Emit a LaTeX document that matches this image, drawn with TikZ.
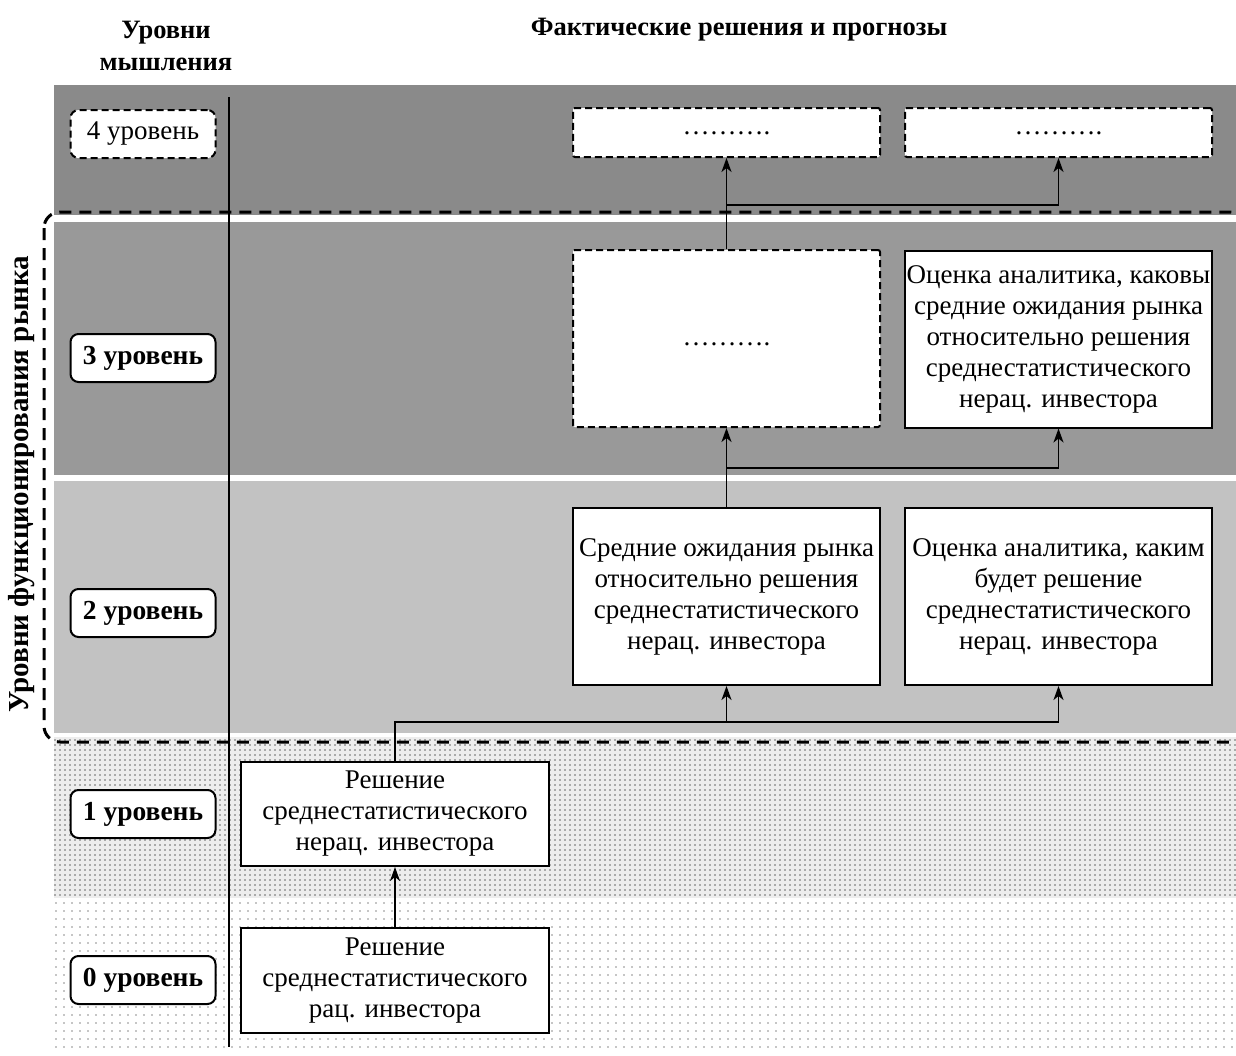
\documentclass[tikz,border=0pt]{standalone}
\usepackage{fontspec}
\setmainfont{Liberation Serif}
\usetikzlibrary{arrows.meta,patterns.meta}
\begin{document}
\begin{tikzpicture}[x=1pt,y=-1pt,
  txt/.style={font=\fontsize{27}{31}\selectfont},
  hdr/.style={font=\fontsize{26.5}{32}\selectfont\bfseries, align=center},
  box/.style={txt, draw, line width=2pt, fill=white, align=center, inner sep=0pt,
              minimum width=307pt, minimum height=177pt},
  dbox/.style={box, dash pattern=on 7pt off 4pt, rounded corners=2pt},
  dotstxt/.style={txt, anchor=base, inner sep=0pt},
  lvl/.style={txt, draw, line width=2pt, fill=white, rounded corners=8pt, inner sep=0pt,
              minimum width=145pt, minimum height=48pt},
  blvl/.style={lvl, font=\fontsize{27.5}{31}\selectfont\bfseries},
  arr/.style={line width=1.6pt, -{Stealth[length=14pt,width=10pt,inset=4pt]}},
  conn/.style={line width=1.6pt}
]
\useasboundingbox (0,0) rectangle (1236,1055);

% bands
\fill[black!46] (54,85) rectangle (1236,215);
\fill[black!40] (54,222) rectangle (1236,475);
\fill[black!24] (54,481) rectangle (1236,733);
\fill[black!7] (54,737) rectangle (1236,898);
\fill[pattern={Dots[distance=5pt,radius=0.95pt]}, pattern color=black!60] (54,737) rectangle (1236,898);
\fill[pattern={Dots[distance=8pt,radius=0.9pt]}, pattern color=black!45] (54,898) rectangle (1236,1050);

% headers
\node[hdr] (h1) at (166,46) {Уровни\\мышления};
\node[hdr] (h2) at (739,30) {Фактические решения и прогнозы};

% separator
\draw[line width=1.4pt] (229,97) -- (229,1047);

% market dashed frame
\draw[line width=3pt, dash pattern=on 12pt off 8pt, rounded corners=16pt] (44,212) rectangle (1246,742);
\node[hdr, font=\fontsize{29}{32}\selectfont\bfseries, rotate=90] (side) at (22,484) {Уровни функционирования рынка};

% level labels
\node[lvl, dash pattern=on 7pt off 4pt] (l4) at (143,134) {4 уровень};
\node[blvl] (l3) at (143,358) {3 уровень};
\node[blvl] (l2) at (143,613) {2 уровень};
\node[blvl] (l1) at (143,814) {1 уровень};
\node[blvl] (l0) at (143,980) {0 уровень};

% boxes
\node[box, minimum width=308pt, minimum height=105pt] (b0) at (395,980.5)
  {Решение\\среднестатистического\\рац. инвестора};
\node[box, minimum width=308pt, minimum height=104pt] (b1) at (395,814)
  {Решение\\среднестатистического\\нерац. инвестора};
\node[box] (b2l) at (726.5,596.5)
  {Средние ожидания рынка\\относительно решения\\среднестатистического\\нерац. инвестора};
\node[box] (b2r) at (1058.5,596.5)
  {Оценка аналитика, каким\\будет решение\\среднестатистического\\нерац. инвестора};
\node[dbox] (b3l) at (726.5,338.5) {};
\node[dotstxt] (d3) at ([yshift=-7pt]b3l.center) {……….};
\node[box] (b3r) at (1058.5,339)
  {Оценка аналитика, каковы\\средние ожидания рынка\\относительно решения\\среднестатистического\\нерац. инвестора};
\node[dbox, minimum height=49pt] (b4l) at (726.5,132.5) {};
\node[dotstxt] (d4l) at ([yshift=-2pt]b4l.center) {……….};
\node[dbox, minimum height=49pt] (b4r) at (1058.5,132.5) {};
\node[dotstxt] (d4r) at ([yshift=-2pt]b4r.center) {……….};

% connectors
\draw[arr] (b0.north) -- (b1.south);

\coordinate (j1) at (b2l.south |- 0,722);
\draw[conn] (b1.north) |- (j1);
\draw[arr] (j1) -- (b2l.south);
\draw[arr] (j1) -| (b2r.south);

\coordinate (j2) at (b2l.north |- 0,468);
\draw[conn] (b2l.north) -- (j2);
\draw[arr] (j2) -- (b3l.south);
\draw[arr] (j2) -| (b3r.south);

\coordinate (j3) at (b3l.north |- 0,205);
\draw[conn] (b3l.north) -- (j3);
\draw[arr] (j3) -- (b4l.south);
\draw[arr] (j3) -| (b4r.south);
\end{tikzpicture}
\end{document}
